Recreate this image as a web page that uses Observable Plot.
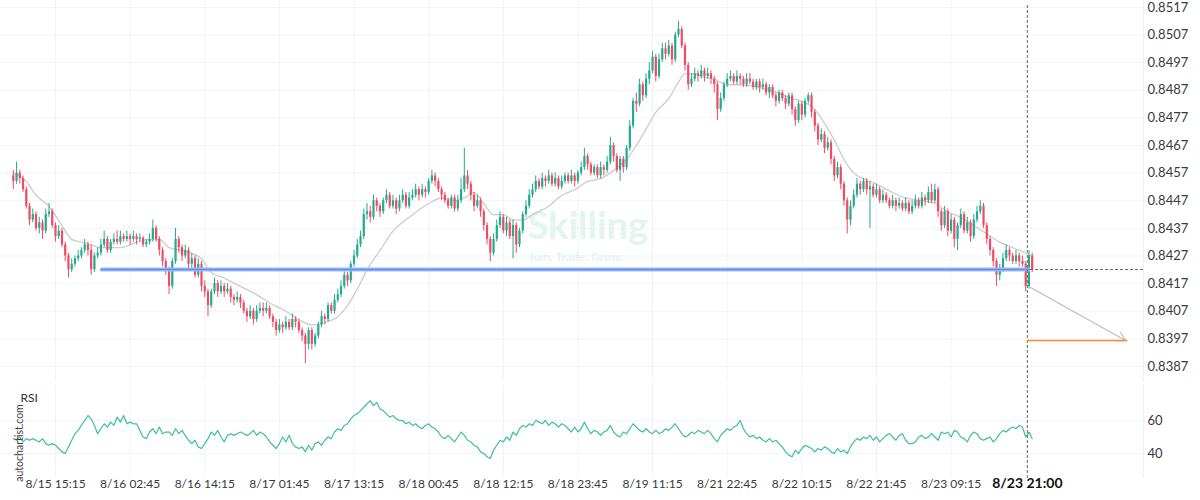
<!DOCTYPE html>
<html><head><meta charset="utf-8">
<script src="https://cdn.jsdelivr.net/npm/d3@7"></script>
<script src="https://cdn.jsdelivr.net/npm/@observablehq/plot@0.6"></script>
<style>
body{margin:0;background:#fff;font-family:Lato,sans-serif;}
#chart{width:1200px;height:500px;overflow:hidden;background:#fff}
#chart svg{display:block}
</style></head><body><div id="chart"></div>
<script>
// ---- data (prices in pips above 0.8400; 30-min candles, x in 15-min bar slots) ----
const priceBase = 0.84, pip = 0.0001, barStep = 2;
const firstOpen = 56;
const closeP = [
54,57,55,51,45,40,42,37,39,36, 42,43,38,34,36,31,27,22,24,26,
27,29,31,29,22,27,28,31,33,29, 32,33,32,34,33,34,33,34,33,33.5,
31,32,33,37,33,29,25,22,16,25, 33,30,27,29,24,26,20,24,16,14,
9,14,17,14,16,14,15,12,11,12, 10,7,5,7,4,7,8,7,8,5,
3,0,2,1,3,1,4,3,0,-2, -5,0,-5,-2,2,5,4,9,7,11,
13,16,20,18,24,27,31,34,42,43, 41,47,45,43,47,49,45,47,44,47,
49,45,48,49,51,49,51,50,54,56, 54,51,49,47,45,48,44,47,51,56,
53,49,45,47,43,38,33,28,33,38, 41,36,39,34,38,31,36,42,45,49,
51,54,52,55,54,56,53,55,52,54, 56,54,56,54,57,59,63,60,57,59,
56,59,58,61,67,63,58,62,59,66, 74,83,82,89,85,91,94,99,92,98,
102,100,103,98,107,109,103,96,89,91, 93,92,94,92,93,91,89,80,84,89,
91,92,90,92,91,89,91,90,88,90, 88,89,86,88,85,83,86,84,82,85,
80,76,82,78,83,85,79,74,69,71, 66,68,62,56,59,53,47,40,45,49,
53,51,54,51,52,49,51,47,49,47, 45,47,45,46,44,46,43,45,47,45,
48,47,50,47,51,43,38,43,36,40, 33,38,42,36,39,34,40,43,45,38,
33,29,25,20,22,26,29,27,25,27, 25,24,16,27,22];
const highP = [
58,61,58,56,52,46,44,43,41,40, 44,46,44,39,38,37,32,28,26,27,
29,30,33,32,31,28,30,33,36,34, 33,35,36,36,35,36,35,36,35,35,
34,33,35,40,38,34,30,26,23,26, 37,34,31,31,30,28,27,26,25,18,
15,15,19,18,18,17,17,16,13,14, 13,11,8,9,8,9,10,10,10,9,
6,4,4,3,5,4,6,5,4,1, -1,1,1,-1,3,7,6,10,10,13,
15,18,22,21,25,29,33,36,44,46, 45,49,48,46,48,51,50,49,48,49,
51,50,50,51,53,52,53,52,55,58, 57,55,52,50,48,49,49,49,55,66,
58,54,50,49,48,44,39,34,35,40, 43,42,41,40,40,39,37,43,47,51,
53,56,55,57,56,58,57,57,56,56, 57,57,58,57,58,61,66,64,61,60,
60,61,60,63,70,68,64,63,63,67, 76,84,86,91,90,93,97,101,100,100,
104,104,105,104,108,112,110,104,97,93, 95,94,96,95,95,94,92,90,86,90,
93,94,93,94,93,92,93,93,91,91, 91,91,90,89,89,86,87,87,85,86,
86,81,83,83,84,86,86,80,75,73, 72,70,69,63,61,60,54,48,47,51,
55,54,55,55,54,53,53,52,51,50, 48,49,48,48,47,48,47,47,49,48,
50,49,52,53,53,52,44,45,44,42, 41,39,44,43,41,40,42,45,47,46,
39,34,30,26,24,28,31,30,28,29, 28,27,25,29,28];
const lowP = [
51,53,53,50,44,38,39,36,35,33, 35,41,37,32,33,30,25,19,21,23,
25,26,28,27,20,21,26,27,30,28, 28,31,31,31,32,32,31,32,31,32,
30,30,31,32,32,27,23,20,13,15, 24,28,25,26,22,22,19,19,14,12,
5,8,13,12,13,12,13,10,9,10, 8,6,3,4,2,3,6,5,6,4,
1,-2,-1,-1,0,0,0,1,-1,-4, -12,-7,-7,-6,-3,1,2,3,6,6,
10,12,15,16,17,23,26,30,33,40, 39,40,43,41,42,46,44,44,42,43,
46,44,44,47,48,47,48,48,49,53, 52,50,47,46,44,44,43,43,46,50,
51,47,43,44,41,36,31,25,27,32, 37,35,34,33,26,28,30,35,41,44,
48,50,51,51,52,53,52,52,51,51, 53,53,53,52,53,56,58,58,56,56,
55,55,56,57,60,61,57,54,57,58, 65,73,79,81,83,84,89,93,90,91,
97,98,99,96,97,106,102,94,87,88, 90,90,91,90,91,89,86,76,79,83,
88,90,89,89,89,88,88,89,87,87, 86,87,85,84,84,81,82,83,80,81,
78,74,75,76,77,82,77,72,67,68, 64,65,60,54,55,51,45,35,38,44,
48,49,50,49,37,48,48,46,46,46, 44,44,43,44,43,43,42,42,44,44,
44,45,46,46,46,41,36,37,34,35, 30,29,37,35,35,32,33,39,42,37,
31,27,23,16,18,21,25,25,24,24, 23,23,14,15,21];
// moving average (read at sample candles)
const maCandle = [0,4,7,11,15,18,21,24,27,30,33,38,42,45,48,52,55,58,61,65,70,75,79,84,88,92,96,100,103,106,109,113,117,122,128,132,136,139,142,145,148,151,154,157,160,165,169,173,177,181,185,189,192,195,198,202,205,207,210,212,216,220,224,230,236,240,243,247,250,253,256,259,262,266,271,275,280,284,288,292,296,300,304,308,312,314];
const maP = [57,54,49,45,38,33,32,31,30,30,30,32,33,33,30,29,28,26,21,19,16,13,10,7,4,2,3,5,9,15,22,29,36,41,46,48,47,48,50,46,42,42,40,40,42,45,49,51,54,55,58,62,67,73,79,84,90,93,93,92,91,89,89,88,86,84,83,80,75,69,62,57,55,53,50,48,47,46,43,41,38,35,32,30,28,27];
const rsi = [
49,48,50,47,49,48,49,48,47,49, 46,45,46,45,43,41,40,44,48,52,
54,57,60,63,61,57,52,55,58,56, 59,57,62,59,63,58,59,58,58,54,
50,49,53,55,52,56,52,53,53,51, 55,52,54,51,48,46,48,44,43,46,
49,53,51,54,50,47,51,52,51,52, 53,52,51,52,54,51,53,52,50,47,
45,43,46,50,47,51,46,44,43,44, 41,45,42,46,47,45,48,50,49,53,
55,54,57,58,61,63,64,66,68,70, 72,69,71,67,66,64,62,63,61,60,
60,58,59,57,58,56,55,57,58,56, 55,53,50,49,51,49,47,50,53,51,
48,47,45,44,41,40,38,37,42,45, 48,47,50,48,53,51,55,57,56,58,
57,60,59,58,60,57,59,58,56,58, 57,55,53,56,53,55,59,55,52,54,
53,51,53,54,57,53,51,50,53,52, 55,58,56,54,53,55,53,52,54,52,
53,55,54,56,58,55,52,50,51,53, 52,54,53,52,54,52,49,47,51,53,
55,54,56,57,60,55,52,50,51,49, 50,48,47,49,47,48,46,44,41,39,
38,42,40,43,45,44,43,41,43,42, 44,43,41,40,43,41,42,40,44,47,
49,48,50,49,51,48,50,47,49,51, 52,50,48,51,52,48,46,46,47,50,
51,49,50,52,50,48,53,52,53,50, 54,53,50,49,47,51,53,52,49,48,
49,50,47,49,52,54,53,55,56,55, 57,56,50,53,49];
const tickLabels = ["8/15 15:15","8/16 02:45","8/16 14:15","8/17 01:45","8/17 13:15","8/18 00:45","8/18 12:15","8/18 23:45","8/19 11:15","8/21 22:45","8/22 10:15","8/22 21:45","8/23 09:15"];
const tickBars = [26,72,118,164,210,256,302,348,394,440,486,532,578];
const currentLabel = "8/23 21:00", currentBar = 625;
const yTicks = [0.8387,0.8397,0.8407,0.8417,0.8427,0.8437,0.8447,0.8457,0.8467,0.8477,0.8487,0.8497,0.8507,0.8517];
const rsiTicks = [40,60];
const support = {pips: 22.1, from: 54, to: 627};
const forecast = {fromBar: 627, fromPips: 15.6, toBar: 685.5, toPips: -3.6};
const target = {pips: -3.6, from: 625, to: 687};

// ---- tables ----
const P = p => priceBase + p * pip;
const candles = closeP.map((c, k) => {
  const o = k ? closeP[k - 1] : firstOpen;
  return {bar: k * barStep, open: P(o), close: P(c), high: P(highP[k]), low: P(lowP[k]), up: c >= o};
});
const maData = maCandle.map((k, i) => ({bar: k * barStep, v: P(maP[i])}));
const rsiData = rsi.map((v, k) => ({bar: k * barStep, v}));
const UP = "#22ab8f", DN = "#f14a63", GRID = "#f0f3f8";
const xDomain = [-7.89, 696.6];

const main = Plot.plot({
  width: 1200, height: 382, marginLeft: 0, marginRight: 57, marginTop: 0, marginBottom: 0,
  x: {domain: xDomain, axis: null, label: null},
  y: {domain: [0.83812, 0.85195], axis: null, label: null},
  style: {fontFamily: "Lato, sans-serif", color: "#3a3a3a", background: "#fff"},
  marks: [
    Plot.ruleY(yTicks, {stroke: GRID}),
    Plot.ruleX(tickBars, {stroke: GRID}),
    Plot.ruleX([xDomain[1]], {stroke: "#eceff5"}),
    Plot.text(["Skilling"], {frameAnchor: "top-left", dx: 527, dy: 212, textAnchor: "start", fontSize: 38, fontWeight: "bold", fill: "#e2f5ee"}),
    Plot.text(["Join. Trade. Grow."], {frameAnchor: "top-left", dx: 528, dy: 252, textAnchor: "start", fontSize: 12, fontWeight: "bold", fill: "#e2f5ee"}),
    Plot.axisY(yTicks, {anchor: "right", label: null, tickSize: 0, tickPadding: 4, tickFormat: d => d.toFixed(4), fontSize: 13}),
    Plot.line(maData, {x: "bar", y: "v", stroke: "#cccccc", strokeWidth: 1.3, curve: "monotone-x"}),
    Plot.ruleX(candles, {x: "bar", y1: "low", y2: "high", stroke: d => d.up ? UP : DN, strokeWidth: 1}),
    Plot.ruleX(candles, {x: "bar", y1: "open", y2: "close", stroke: d => d.up ? UP : DN, strokeWidth: 2.2}),
    Plot.ruleY([support], {y: d => P(d.pips), x1: d => d.from, x2: d => d.to, stroke: "#9dbcf7", strokeWidth: 4}),
    Plot.ruleY([support], {y: d => P(d.pips), x1: d => d.from, x2: d => d.to, stroke: "#5b8ef0", strokeWidth: 1.6}),
    Plot.ruleY([support], {y: d => P(d.pips), x1: d => d.to, x2: xDomain[1], stroke: "#666", strokeDasharray: "3,2"}),
    Plot.ruleX([currentBar], {y1: 0.85177, y2: 0.83812, stroke: "#666", strokeDasharray: "3,2"}),
    Plot.arrow([forecast], {x1: "fromBar", y1: d => P(d.fromPips), x2: "toBar", y2: d => P(d.toPips), stroke: "#bdbdbd", strokeWidth: 1.2, headLength: 12, bend: 0}),
    Plot.ruleY([target], {y: d => P(d.pips), x1: "from", x2: "to", stroke: "#ff8535", strokeWidth: 1.5})
  ]
});

const lower = Plot.plot({
  width: 1200, height: 118, marginLeft: 0, marginRight: 57, marginTop: 3, marginBottom: 22,
  x: {domain: xDomain, axis: null, label: null},
  y: {domain: [24.85, 81.2], axis: null, label: null},
  style: {fontFamily: "Lato, sans-serif", color: "#3a3a3a", background: "#fff", overflow: "visible"},
  marks: [
    Plot.ruleY(rsiTicks, {stroke: GRID}),
    Plot.ruleX(tickBars, {stroke: GRID}),
    Plot.ruleX([xDomain[1]], {stroke: "#eceff5"}),
    Plot.axisY(rsiTicks, {anchor: "right", label: null, tickSize: 0, tickPadding: 4, fontSize: 13}),
    Plot.line(rsiData, {x: "bar", y: "v", stroke: "#3dbf9c", strokeWidth: 1.2}),
    Plot.ruleX([currentBar], {stroke: "#666", strokeDasharray: "3,2"}),
    Plot.text(tickBars, {x: d => d, text: (d, i) => tickLabels[i], frameAnchor: "bottom", dy: 9, fontSize: 12, fill: "#3a3a3a"}),
    Plot.text([currentBar], {x: d => d, text: () => currentLabel, frameAnchor: "bottom", dy: 9, fontSize: 14, fontWeight: "bold", fill: "#111"}),
    Plot.text(["RSI"], {frameAnchor: "top-left", dx: 20, dy: 8, textAnchor: "start", fontSize: 12, fill: "#333"}),
    Plot.text(["autochartist.com"], {frameAnchor: "left", dx: 19, dy: 11, textAnchor: "middle", rotate: -90, fontSize: 10.5, fill: "#444"})
  ]
});

document.getElementById("chart").append(main, lower);
</script></body></html>
